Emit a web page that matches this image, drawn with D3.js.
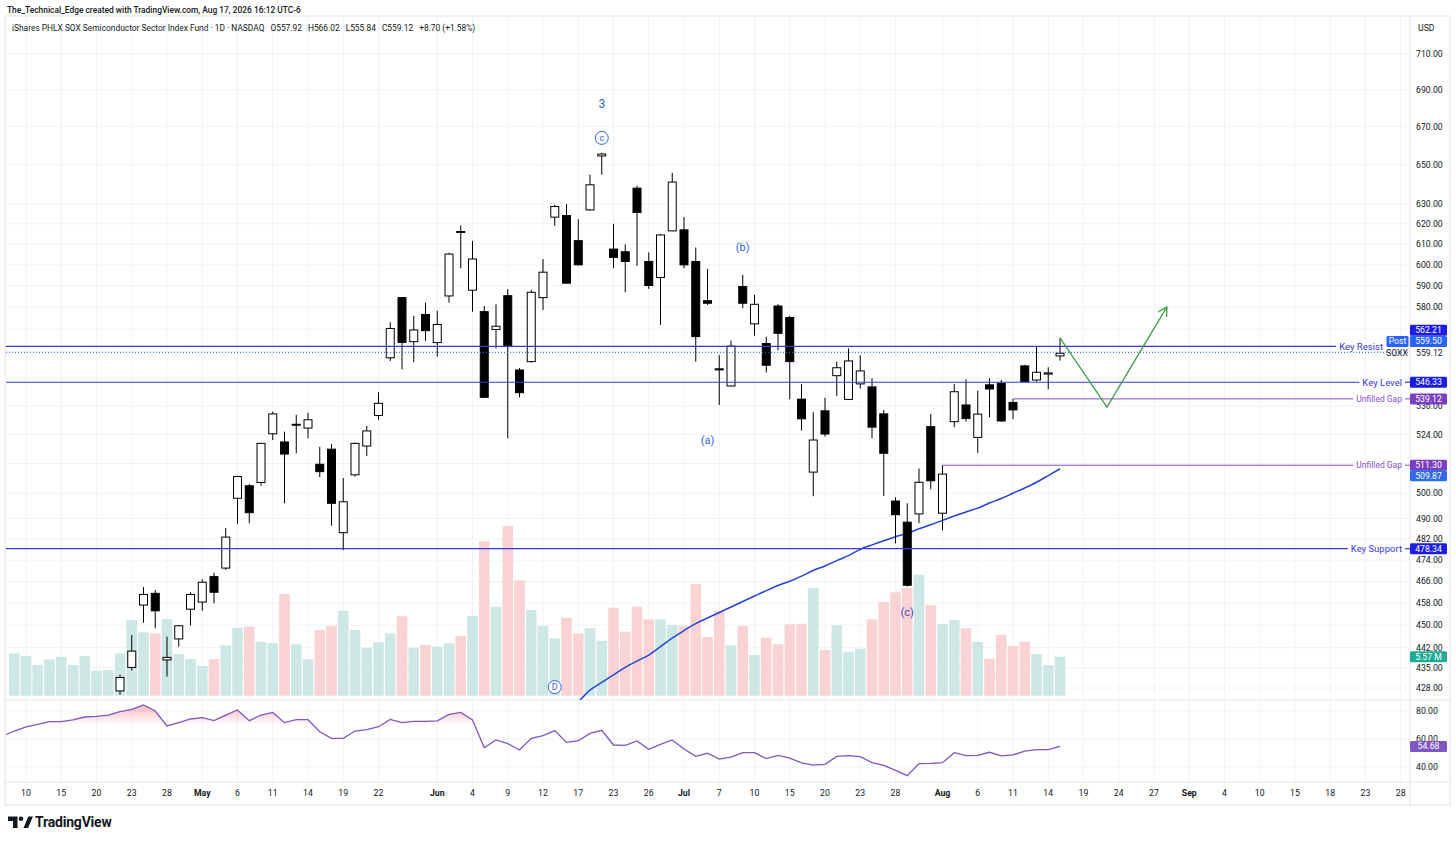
<!DOCTYPE html>
<html>
<head>
<meta charset="utf-8">
<script src="https://cdn.jsdelivr.net/npm/d3@7"></script>
<style>
  body { margin: 0; background: #fff; }
  svg { display: block; font-family: Roboto, "Noto Sans", sans-serif; }
</style>
</head>
<body>
<svg></svg>
<script>
// ---- data (bar index 0 = Apr 9 2026, 89 = Aug 17) ----
const candleStart = 9; // earlier candles sit below the visible price range
const open = [427.0,435.1,457.3,461.6,437.7,445.1,455.8,458.4,467.8,471.0,
  498.0,503.0,504.3,524.3,520.9,527.9,526.7,511.7,517.9,484.5,
  507.4,519.2,532.0,557.1,584.5,564.3,576.7,563.9,585.3,616.2,
  588.0,578.0,569.8,585.4,551.7,555.4,584.5,623.3,624.1,611.7,
  626.9,654.5,607.6,606.3,637.9,601.6,594.0,616.5,617.0,601.6,
  583.1,552.2,544.7,589.7,572.4,563.5,580.6,575.3,539.0,508.5,
  534.0,549.2,538.9,545.6,544.3,532.7,496.9,488.6,491.8,527.3,
  492.1,529.4,536.5,522.8,545.2,545.9,537.6,553.5,547.3,549.9,557.92];
const high = [432.5,446.5,463.9,462.8,445.9,450.1,462.0,466.8,469.3,486.3,
  507.0,503.7,520.4,533.7,525.2,532.3,533.2,518.9,520.1,506.1,
  520.6,527.6,542.0,573.2,584.8,576.1,582.2,578.4,605.8,619.2,
  611.6,580.6,581.4,588.5,552.6,588.1,602.8,629.4,629.8,622.3,
  644.8,656.2,620.0,609.9,639.1,606.0,615.0,645.7,623.3,608.4,
  598.1,558.3,564.8,595.2,585.8,566.6,581.5,576.1,545.6,533.4,
  539.6,555.4,561.3,558.2,548.1,534.4,498.4,496.0,510.0,532.7,
  511.3,545.6,547.6,542.6,548.1,547.4,539.12,554.0,562.3,552.9,566.02];
const low = [425.7,434.0,450.9,448.9,431.9,442.3,449.9,455.2,457.9,470.3,
  487.9,488.2,503.0,521.7,496.0,516.2,522.4,506.5,487.2,477.8,
  506.7,515.1,530.2,555.7,552.0,555.1,564.7,557.6,582.2,598.4,
  578.0,539.5,561.3,522.4,539.8,555.0,578.8,619.0,591.0,599.8,
  626.5,644.8,598.4,587.0,599.5,588.6,572.0,616.3,598.4,555.4,
  581.1,536.5,544.5,579.6,567.0,550.6,560.5,538.9,525.7,498.8,
  523.1,540.4,538.7,543.6,522.4,498.9,480.4,464.1,488.2,501.6,
  485.4,527.1,529.4,516.4,531.3,529.3,530.5,546.4,546.6,543.3,555.84];
const close = [431.6,440.8,461.2,455.2,438.6,449.8,461.2,465.7,462.0,482.8,
  506.7,492.3,520.3,532.7,515.9,528.3,530.2,508.7,496.0,496.6,
  520.3,525.5,537.2,570.3,564.0,569.6,569.3,572.1,605.2,615.9,
  602.8,539.8,571.3,562.5,541.8,587.0,596.5,628.6,591.3,600.0,
  639.6,655.5,603.6,601.6,625.6,590.2,614.5,641.0,600.0,566.6,
  581.9,551.9,562.3,581.9,581.4,553.8,568.1,555.4,530.6,521.7,
  524.2,552.7,555.7,551.3,527.1,516.2,491.5,464.6,504.4,505.0,
  507.7,542.2,530.7,532.6,543.4,529.7,534.4,546.6,550.7,550.42,559.12];

// volume in millions, all 90 bars
const volume = [6.05,5.67,4.38,5.20,5.57,4.38,5.67,3.57,3.67,6.05,
  10.81,9.05,8.91,10.95,5.95,5.24,4.24,5.24,7.20,9.71,
  9.85,7.71,7.48,14.52,7.34,5.24,9.38,9.95,12.14,9.38,
  6.85,7.63,8.91,11.34,6.85,7.24,7.00,7.48,8.53,11.38,
  22.09,12.71,24.23,16.48,12.24,9.95,8.20,11.14,8.91,9.62,
  7.85,12.57,9.14,12.71,10.91,10.91,10.10,9.95,15.95,8.38,
  12.14,7.20,9.95,5.81,8.28,7.34,10.20,10.28,15.38,6.53,
  10.05,6.28,6.71,10.91,13.38,14.77,15.38,17.28,12.95,10.24,
  10.81,9.62,7.67,5.28,8.71,7.10,7.71,5.95,4.38,5.57];
const earlyVolUp = [1,1,1,1,1,1,1,1,1]; // bars before candleStart

// RSI, all 90 bars (rsiPrev = the bar before, cut by the pane edge)
const rsiPrev = 62.0;
const rsi = [65.7,68.6,70.5,72.4,72.4,73.6,75.7,76.2,77.1,79.5,
  81.2,84.3,80.0,69.3,71.7,74.3,75.2,73.1,77.1,80.7,
  73.1,77.1,79.0,71.7,73.8,73.8,65.2,60.5,60.5,65.7,
  66.7,68.8,74.0,71.7,72.6,72.6,72.9,77.6,79.0,73.6,
  53.8,59.3,56.7,52.1,60.5,62.4,66.0,57.6,58.8,64.0,
  66.2,55.7,55.5,58.6,52.6,56.2,59.3,52.9,47.6,49.8,
  45.7,47.1,50.2,50.2,46.0,48.3,46.4,42.9,41.4,41.9,
  47.6,48.1,47.4,43.1,41.2,37.6,33.8,42.4,42.6,43.1,
  50.2,48.1,48.3,50.5,47.9,48.6,51.4,52.4,52.4,54.68];

// moving average from bar 48 on
const maStart = 48;
const maValues = [423.2,427.3,429.9,432.5,435.1,437.3,439.4,442.4,445.4,448.1,
  450.6,452.6,454.6,456.6,458.6,460.6,462.6,464.5,466.1,468.0,
  470.1,471.8,473.8,475.7,478.1,479.8,481.4,482.9,484.3,486.0,
  487.6,489.3,491.0,492.6,494.1,496.1,497.9,500.0,502.1,504.4,507.1,509.87];

// time axis
const tickIdx = [1,4,7,10,13,16,19,22,25,28,31,36,39,42,45,48,51,54,57,60,63,66,69,72,75,79,82,85,88,91,94,97,100,103,106,109,112,115,118];
const tickLabels = ["10","15","20","23","28","May","6","11","14","19","22","Jun","4","9","12","17","23","26","Jul","7","10","15","20","23","28","Aug","6","11","14","19","24","27","Sep","4","10","15","18","23","28"];
const monthLabels = ["May","Jun","Jul","Aug","Sep"];

// price axis (labels of 570, 560, 548, 512 are covered by the level badges)
const priceTicks = [710,690,670,650,630,620,610,600,590,580,570,560,548,536,524,512,500,490,482,474,466,458,450,442,435,428];
const coveredTicks = [570,560,548,512];
const rsiTicks = [80,60,40];

// drawn levels
const keyLevels = [562.21, 546.33, 478.34];
const keyNames = ["Key Resist", "Key Level", "Key Support"];
const gapLevels = [539.12, 511.30];
const gapStartIdx = [85, 79];
const postPrice = 559.50;

// projection path (bar index, price)
const projIdx = [89, 93, 98.1];
const projPrice = [566.0, 535.6, 580.2];

// wave labels (bar index, price)
const waveText = ["3", "c", "(b)", "(a)", "(c)", "D"];
const waveIdx = [50, 50, 62, 59, 76, 46];
const wavePrice = [682.2, 664.0, 608.6, 521.6, 454.7, 428.3];
const waveCircled = [false, true, false, false, false, true];

// ---- setup ----
let width = 1456, height = 842;
let svg = d3.select("svg").attr("width", width).attr("height", height);

const left = 6, right = 1410, paneTop = 16, paneBottom = 700, rsiBottom = 782, frameBottom = 805;
const txt = "#131722", grid = "#f0f2f6", border = "#e0e3eb";
const keyBlue = "#3838dc", badgeBlue = "#1c1ce6", lightBlue = "#2962ff", purple = "#8650cc";
const fs = "8.7px";

const x = d3.scaleLinear().domain([0, 89]).range([14.25, 14.25 + 89 * 11.75]);
const y = d3.scaleLog().domain([428, 710]).range([688, 54]);
const yVol = d3.scaleLinear().domain([0, 25]).range([695.7, 520.7]);
const yRsi = d3.scaleLinear().domain([40, 80]).range([767, 711]);

const defs = svg.append("defs");
defs.append("clipPath").attr("id", "mainClip").append("rect")
    .attr("x", left).attr("y", paneTop).attr("width", right - left).attr("height", paneBottom - paneTop);
defs.append("clipPath").attr("id", "rsiClip").append("rect")
    .attr("x", left).attr("y", paneBottom).attr("width", right - left).attr("height", rsiBottom - paneBottom);
defs.append("clipPath").attr("id", "obClip").append("rect")
    .attr("x", left).attr("y", paneBottom).attr("width", right - left).attr("height", yRsi(70) - paneBottom);
let grad = defs.append("linearGradient").attr("id", "obGrad")
    .attr("gradientUnits", "userSpaceOnUse").attr("x1", 0).attr("x2", 0).attr("y1", 703).attr("y2", yRsi(70));
grad.append("stop").attr("offset", "0%").attr("stop-color", "#f23645").attr("stop-opacity", 0.38);
grad.append("stop").attr("offset", "100%").attr("stop-color", "#f23645").attr("stop-opacity", 0);

// ---- header ----
svg.append("text").attr("x", 7).attr("y", 13).attr("font-size", "8.4px").attr("fill", txt)
    .attr("font-weight", 500)
    .text("The_Technical_Edge created with TradingView.com, Aug 17, 2026 16:12 UTC-6");

// ---- grid ----
let g = svg.append("g");
g.selectAll(".vg").data(tickIdx).enter().append("line")
    .attr("x1", d => x(d)).attr("x2", d => x(d))
    .attr("y1", paneTop).attr("y2", rsiBottom)
    .attr("stroke", grid);
g.selectAll(".hg").data(priceTicks).enter().append("line")
    .attr("x1", left).attr("x2", right)
    .attr("y1", d => y(d)).attr("y2", d => y(d))
    .attr("stroke", grid);
g.selectAll(".rg").data(rsiTicks).enter().append("line")
    .attr("x1", left).attr("x2", right)
    .attr("y1", d => yRsi(d)).attr("y2", d => yRsi(d))
    .attr("stroke", grid);

// frame + pane separators
svg.append("rect").attr("x", 5).attr("y", paneTop).attr("width", 1445).attr("height", frameBottom - paneTop)
    .attr("fill", "none").attr("stroke", border);
svg.append("line").attr("x1", 5).attr("x2", 1450).attr("y1", paneBottom).attr("y2", paneBottom).attr("stroke", border);
svg.append("line").attr("x1", 5).attr("x2", 1450).attr("y1", rsiBottom).attr("y2", rsiBottom).attr("stroke", border);
svg.append("line").attr("x1", right).attr("x2", right).attr("y1", paneTop).attr("y2", frameBottom).attr("stroke", border);

let main = svg.append("g").attr("clip-path", "url(#mainClip)");

// ---- volume ----
const isUp = i => i < candleStart ? earlyVolUp[i] === 1 : close[i - candleStart] >= open[i - candleStart];
main.append("g").selectAll("rect").data(volume).enter().append("rect")
    .attr("x", (d, i) => x(i) - 5.3)
    .attr("width", 10.6)
    .attr("y", d => yVol(d))
    .attr("height", d => yVol(0) - yVol(d))
    .attr("fill", (d, i) => isUp(i) ? "#cde8e4" : "#f9d3d3");

// ---- moving average ----
main.append("path")
    .datum(maValues)
    .attr("d", d3.line().x((d, k) => x(maStart + k)).y(d => y(d)).curve(d3.curveMonotoneX))
    .attr("fill", "none").attr("stroke", "#2443d8").attr("stroke-width", 1.5);

// ---- candles ----
const candles = open.map((o, k) => ({ i: candleStart + k, o: o, h: high[k], l: low[k], c: close[k] }));
let cg = main.append("g");
cg.selectAll("line").data(candles).enter().append("line")
    .attr("x1", d => x(d.i)).attr("x2", d => x(d.i))
    .attr("y1", d => y(d.h)).attr("y2", d => y(d.l))
    .attr("stroke", "#000").attr("stroke-width", 1);
cg.selectAll("rect").data(candles).enter().append("rect")
    .attr("x", d => x(d.i) - 4)
    .attr("width", 8)
    .attr("y", d => y(Math.max(d.o, d.c)))
    .attr("height", d => Math.max(1, y(Math.min(d.o, d.c)) - y(Math.max(d.o, d.c))))
    .attr("fill", d => d.c >= d.o ? "#fff" : "#000")
    .attr("stroke", "#000").attr("stroke-width", 1);

// ---- horizontal levels ----
// post-market dotted line
main.append("line").attr("x1", left).attr("x2", right)
    .attr("y1", y(postPrice)).attr("y2", y(postPrice))
    .attr("stroke", lightBlue).attr("stroke-dasharray", "1,2");

const labelEnd = [1383, 1402, 1402];
keyLevels.forEach((v, k) => {
    let t = svg.append("text").attr("x", labelEnd[k]).attr("y", y(v)).attr("dy", "0.35em")
        .attr("text-anchor", "end").attr("font-size", "9.5px").attr("fill", keyBlue).text(keyNames[k]);
    let w = t.node().getComputedTextLength();
    svg.append("line").attr("x1", left).attr("x2", labelEnd[k] - w - 3)
        .attr("y1", y(v)).attr("y2", y(v)).attr("stroke", keyBlue).attr("stroke-width", 1.2);
    if (k > 0) {
        svg.append("line").attr("x1", labelEnd[k] + 3).attr("x2", right)
            .attr("y1", y(v)).attr("y2", y(v)).attr("stroke", keyBlue).attr("stroke-width", 1.2);
    }
});
gapLevels.forEach((v, k) => {
    let t = svg.append("text").attr("x", 1402).attr("y", y(v)).attr("dy", "0.35em")
        .attr("text-anchor", "end").attr("font-size", "8.5px").attr("fill", purple).text("Unfilled Gap");
    let w = t.node().getComputedTextLength();
    svg.append("line").attr("x1", x(gapStartIdx[k])).attr("x2", 1402 - w - 3)
        .attr("y1", y(v)).attr("y2", y(v)).attr("stroke", purple).attr("stroke-width", 1);
    svg.append("line").attr("x1", 1405).attr("x2", right)
        .attr("y1", y(v)).attr("y2", y(v)).attr("stroke", purple).attr("stroke-width", 1);
});

// ---- projected path ----
const projPts = projIdx.map((d, k) => [x(d), y(projPrice[k])]);
svg.append("path").attr("d", d3.line()(projPts))
    .attr("fill", "none").attr("stroke", "#3d9e3f").attr("stroke-width", 1.3);
{
    let a = projPts[1], b = projPts[2];
    let ang = Math.atan2(b[1] - a[1], b[0] - a[0]);
    [-0.5, 0.5].forEach(s => {
        svg.append("line").attr("x1", b[0]).attr("y1", b[1])
            .attr("x2", b[0] - 10 * Math.cos(ang + s)).attr("y2", b[1] - 10 * Math.sin(ang + s))
            .attr("stroke", "#3d9e3f").attr("stroke-width", 1.3);
    });
}

// ---- wave labels ----
waveText.forEach((t, k) => {
    let cx = x(waveIdx[k]), cy = y(wavePrice[k]);
    let col = t === "(c)" ? "#4b45c6" : "#2f62e6";
    if (waveCircled[k]) {
        svg.append("circle").attr("cx", cx).attr("cy", cy).attr("r", 6.5)
            .attr("fill", "#fff").attr("stroke", col).attr("stroke-width", 1);
    }
    svg.append("text").attr("x", cx).attr("y", cy).attr("dy", "0.35em")
        .attr("text-anchor", "middle").attr("fill", col)
        .attr("font-size", t === "3" ? "12px" : (waveCircled[k] ? "9px" : "11px"))
        .text(t);
});

// ---- RSI ----
const rsiAll = [rsiPrev].concat(rsi);
let rsiG = svg.append("g").attr("clip-path", "url(#rsiClip)");
rsiG.append("path").datum(rsiAll)
    .attr("clip-path", "url(#obClip)")
    .attr("d", d3.area().x((d, i) => x(i - 1)).y0(yRsi(70)).y1(d => yRsi(d)))
    .attr("fill", "url(#obGrad)");
rsiG.append("path").datum(rsiAll)
    .attr("d", d3.line().x((d, i) => x(i - 1)).y(d => yRsi(d)))
    .attr("fill", "none").attr("stroke", "#7e57c2").attr("stroke-width", 1.3);

// ---- time axis ----
svg.append("g").selectAll("text").data(tickIdx).enter().append("text")
    .attr("x", d => x(d)).attr("y", 796)
    .attr("text-anchor", "middle").attr("font-size", fs).attr("fill", txt)
    .attr("font-weight", (d, k) => monthLabels.includes(tickLabels[k]) ? 700 : 400)
    .text((d, k) => tickLabels[k]);

// ---- price axis ----
const f2 = d3.format(".2f");
let ax = svg.append("g");
ax.selectAll(".pt").data(priceTicks.filter(d => !coveredTicks.includes(d))).enter().append("text")
    .attr("x", 1416).attr("y", d => y(d)).attr("dy", "0.35em")
    .attr("font-size", fs).attr("fill", txt).text(d => f2(d));
ax.selectAll(".rt").data(rsiTicks).enter().append("text")
    .attr("x", 1416).attr("y", d => yRsi(d)).attr("dy", "0.35em")
    .attr("font-size", fs).attr("fill", txt).text(d => f2(d));
svg.append("text").attr("x", 1418).attr("y", 31).attr("font-size", fs).attr("fill", txt).text("USD");

function badge(px, py, w, label, fill, color) {
    svg.append("rect").attr("x", px).attr("y", py - 5.5).attr("width", w).attr("height", 11)
        .attr("rx", 1.5).attr("fill", fill);
    svg.append("text").attr("x", px + w / 2).attr("y", py).attr("dy", "0.35em")
        .attr("text-anchor", "middle").attr("font-size", fs).attr("fill", color || "#fff").text(label);
}
// symbol row
svg.append("text").attr("x", 1397).attr("y", y(559.12)).attr("dy", "0.35em").attr("text-anchor", "middle")
    .attr("font-size", fs).attr("fill", txt).text("SOXX");
svg.append("text").attr("x", 1416).attr("y", y(559.12)).attr("dy", "0.35em")
    .attr("font-size", fs).attr("fill", txt).text(f2(559.12));

badge(1410, y(562.21) - 16, 37, f2(562.21), badgeBlue);
badge(1386.5, y(postPrice) - 11, 22, "Post", lightBlue);
badge(1410, y(postPrice) - 11, 37, f2(postPrice), lightBlue);
badge(1410, y(546.33), 37, f2(546.33), badgeBlue);
badge(1410, y(539.12), 37, f2(539.12), "#7b3fc4");
badge(1410, y(511.30), 37, f2(511.30), "#7b3fc4");
badge(1410, y(509.87) + 7, 37, f2(509.87), "#2f6ae8");
badge(1410, y(478.34), 37, f2(478.34), badgeBlue);
badge(1410, yVol(volume[89]), 37, volume[89].toFixed(2) + " M", "#22ab94");
badge(1410, yRsi(54.68), 37, f2(54.68), "#7e57c2");

// ---- legend line inside the pane ----
let leg = svg.append("text").attr("x", 12).attr("y", 31).attr("font-size", "8.4px").attr("fill", txt);
leg.append("tspan").text("iShares PHLX SOX Semiconductor Sector Index Fund · 1D · NASDAQ");
leg.append("tspan").attr("dx", 6).text("O" + f2(557.92));
leg.append("tspan").attr("dx", 6).text("H" + f2(566.02));
leg.append("tspan").attr("dx", 6).text("L" + f2(555.84));
leg.append("tspan").attr("dx", 6).text("C" + f2(559.12));
leg.append("tspan").attr("dx", 6).text("+8.70 (+1.58%)");

// ---- TradingView mark ----
let logo = svg.append("g").attr("fill", "#131722");
logo.append("path").attr("d", "M8 816.5 h9.5 v11.5 h-4.5 v-7 h-5 z");
logo.append("circle").attr("cx", 21).attr("cy", 818.8).attr("r", 2.3);
logo.append("path").attr("d", "M23.5 828 l4.8 -11.5 h4.6 l-4.8 11.5 z");
svg.append("text").attr("x", 35).attr("y", 827).attr("font-size", "14px").attr("font-weight", 700)
    .attr("fill", "#131722").attr("letter-spacing", "-0.2px").text("TradingView");
</script>
</body>
</html>
